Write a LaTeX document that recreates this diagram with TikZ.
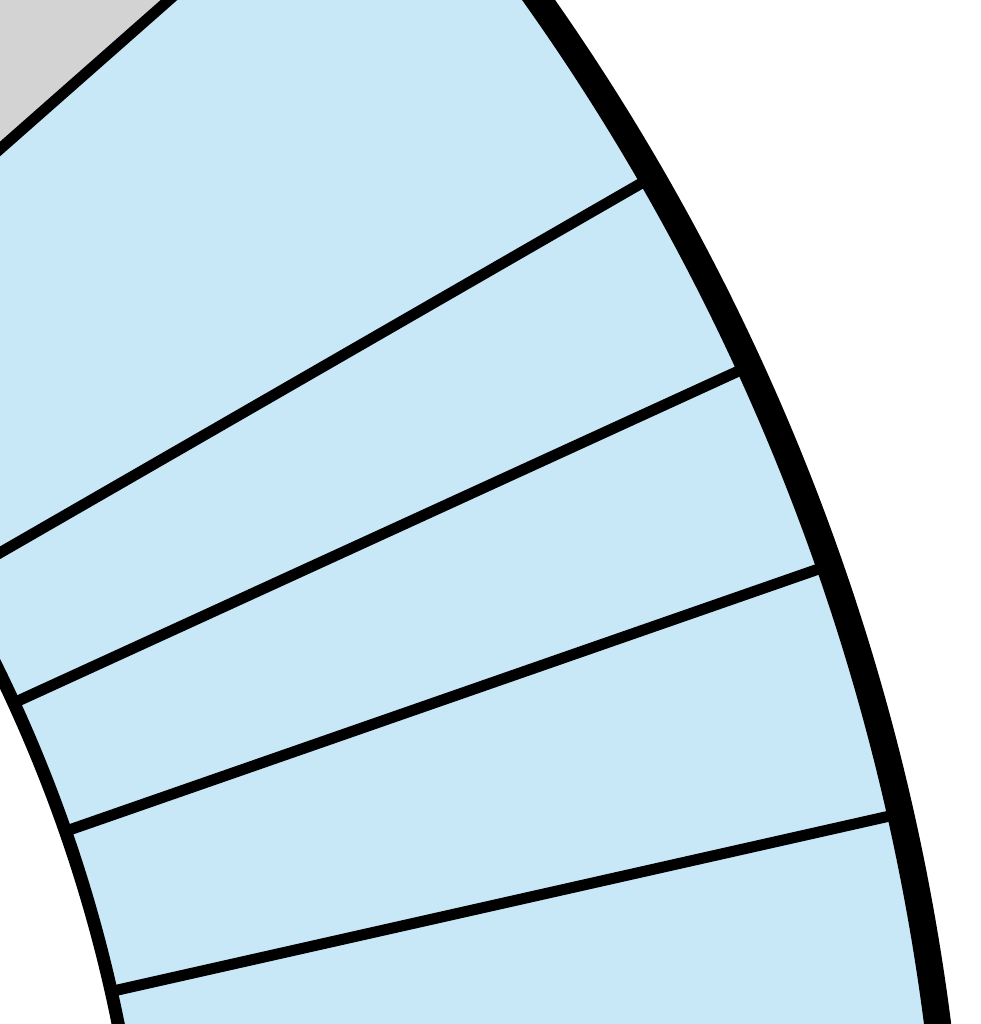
\documentclass[tikz,border=0pt]{standalone}
\begin{document}
\begin{tikzpicture}[x=1pt,y=1pt]
\definecolor{ringblue}{RGB}{200,231,247}
\definecolor{ringgray}{RGB}{211,211,211}
\tikzset{
  divider/.style={line width=11pt},
  innerrim/.style={line width=13pt},
  outerrim/.style={line width=27pt}
}
\useasboundingbox (0,0) rectangle (981,1024);
\clip (0,0) rectangle (981,1024);
\begin{scope}[shift={(-1321.9,-290.4)}]
\def\rin{1469pt}\def\rout{2278pt}
\foreach \a/\b/\c in {41.4/70/ringgray, 29.95/41.4/ringblue, 24.6/29.95/ringblue, 19.2/24.6/ringblue, 12.7/19.2/ringblue, 0/12.7/ringblue} {
  \fill[\c] (\a:\rin) -- (\a:\rout) arc[start angle=\a, end angle=\b, radius=\rout] -- (\b:\rin) arc[start angle=\b, end angle=\a, radius=\rin] -- cycle;
}
\foreach \a in {41.4, 29.95, 24.6, 19.2, 12.7} {
  \draw[divider] (\a:\rin) -- (\a:\rout);
}
\draw[innerrim] (0:\rin) arc[start angle=0, end angle=70, radius=\rin];
\draw[outerrim] (0:\rout) arc[start angle=0, end angle=70, radius=\rout];
\end{scope}
\end{tikzpicture}
\end{document}
